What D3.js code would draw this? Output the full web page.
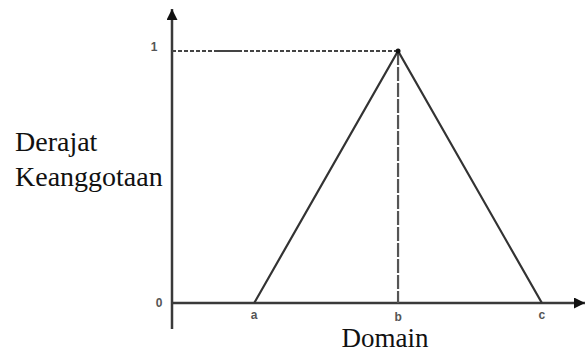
<!DOCTYPE html>
<html>
<head>
<meta charset="utf-8">
<script src="https://cdn.jsdelivr.net/npm/d3@7"></script>
<style>
  html, body { margin: 0; padding: 0; background: #fff; }
  svg { display: block; }
</style>
</head>
<body>
<svg id="chart" width="585" height="353"></svg>
<script>
// Data
const pointLabels = ["a", "b", "c"];
const pointX = [2, 5.5, 9];          // domain positions of a, b, c
const membership = [0, 1, 0];        // membership degree at a, b, c
const yTickLabels = ["0", "1"];
const yTickValues = [0, 1];
const yTitle = ["Derajat", "Keanggotaan"];
const xTitle = "Domain";

const svg = d3.select("#chart");
const x = d3.scaleLinear().domain([0, 10]).range([172, 583]);
const y = d3.scaleLinear().domain([0, 1]).range([303, 51]);

const axisColor = "#3a3a3a";
const serif = "'Liberation Serif', 'Times New Roman', Times, serif";
const sans = "'Liberation Sans', Arial, sans-serif";

// arrow markers
const defs = svg.append("defs");
defs.append("marker").attr("id", "arrUp")
  .attr("viewBox", "0 0 10 10").attr("refX", 5).attr("refY", 0)
  .attr("markerWidth", 11).attr("markerHeight", 15).attr("markerUnits", "userSpaceOnUse")
  .attr("orient", "0")
  .append("path").attr("d", "M0,10 L5,0 L10,10 Z").attr("fill", "#111");
defs.append("marker").attr("id", "arrRight")
  .attr("viewBox", "0 0 10 10").attr("refX", 10).attr("refY", 5)
  .attr("markerWidth", 12).attr("markerHeight", 11).attr("markerUnits", "userSpaceOnUse")
  .attr("orient", "0")
  .append("path").attr("d", "M0,0 L10,5 L0,10 Z").attr("fill", "#111");

// y axis (vertical line extending below x axis)
svg.append("line")
  .attr("x1", x(0)).attr("x2", x(0))
  .attr("y1", y(0) + 26).attr("y2", 9)
  .attr("stroke", axisColor).attr("stroke-width", 2.5)
  .attr("marker-end", "url(#arrUp)");

// x axis
svg.append("line")
  .attr("x1", x(0)).attr("x2", 585)
  .attr("y1", y(0)).attr("y2", y(0))
  .attr("stroke", axisColor).attr("stroke-width", 2.5)
  .attr("marker-end", "url(#arrRight)");

// horizontal dashed line at membership 1
const peakIdx = membership.indexOf(1);
svg.append("line")
  .attr("x1", x(0)).attr("x2", x(pointX[peakIdx]))
  .attr("y1", y(1)).attr("y2", y(1))
  .attr("stroke", "#444").attr("stroke-width", 2)
  .attr("stroke-dasharray", "4,2");
svg.append("line")
  .attr("x1", 217).attr("x2", 241)
  .attr("y1", y(1)).attr("y2", y(1))
  .attr("stroke", "#444").attr("stroke-width", 2);

// vertical dashed line from peak
svg.append("line")
  .attr("x1", x(pointX[peakIdx])).attr("x2", x(pointX[peakIdx]))
  .attr("y1", y(1)).attr("y2", y(0))
  .attr("stroke", "#555").attr("stroke-width", 2.2)
  .attr("stroke-dasharray", "14,2");

// triangle
const line = d3.line().x((d, i) => x(pointX[i])).y(d => y(d));
svg.append("path")
  .datum(membership)
  .attr("d", line)
  .attr("fill", "none")
  .attr("stroke", "#333").attr("stroke-width", 2.2)
  .attr("stroke-linejoin", "miter");

// peak dot
svg.append("circle")
  .attr("cx", x(pointX[peakIdx])).attr("cy", y(1)).attr("r", 2.5)
  .attr("fill", "#111");

// x point labels
svg.selectAll(".xl").data(pointLabels).enter().append("text")
  .attr("x", (d, i) => x(pointX[i]))
  .attr("y", (d, i) => y(0) + (d === "b" ? 18 : 16))
  .attr("text-anchor", "middle")
  .attr("font-family", sans)
  .attr("font-weight", "bold").attr("font-size", 12)
  .attr("fill", "#555")
  .text(d => d);

// y tick labels
svg.selectAll(".yl").data(yTickLabels).enter().append("text")
  .attr("x", (d, i) => x(0) - (yTickValues[i] === 1 ? 18 : 13))
  .attr("y", (d, i) => y(yTickValues[i]) + (yTickValues[i] === 1 ? 0 : 4))
  .attr("text-anchor", "middle")
  .attr("font-family", sans)
  .attr("font-weight", "bold").attr("font-size", 12)
  .attr("fill", "#555")
  .text(d => d);

// y title
svg.selectAll(".yt").data(yTitle).enter().append("text")
  .attr("x", 15)
  .attr("y", (d, i) => 151 + i * 35)
  .attr("font-family", serif)
  .attr("font-size", 28)
  .attr("fill", "#111")
  .text(d => d);

// x title
svg.append("text")
  .attr("x", 385).attr("y", 347)
  .attr("text-anchor", "middle")
  .attr("font-family", serif)
  .attr("font-size", 27)
  .attr("fill", "#111")
  .text(xTitle);
</script>
</body>
</html>
